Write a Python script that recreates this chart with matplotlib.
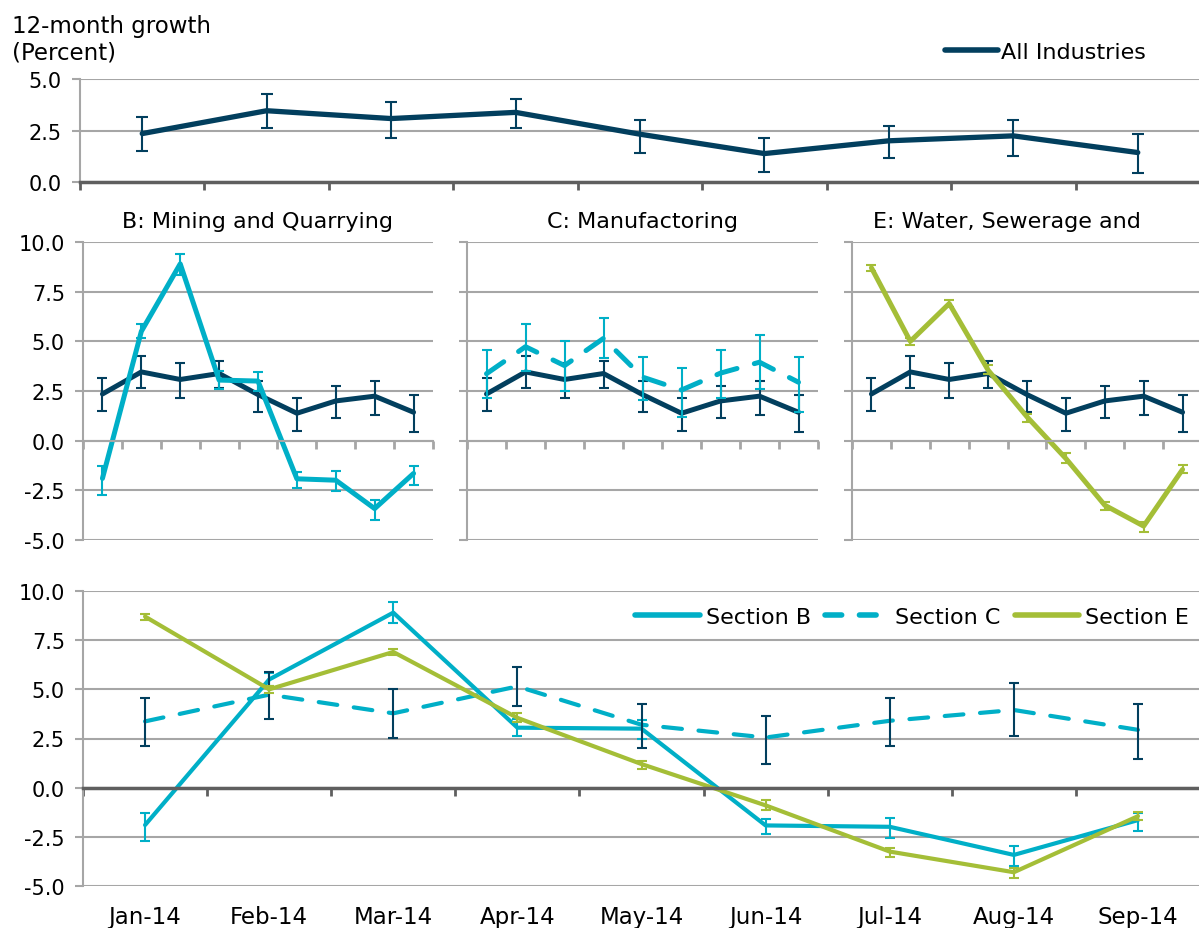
import numpy as np
import matplotlib.pyplot as plt
from matplotlib.lines import Line2D

plt.rcParams['font.family'] = 'DejaVu Sans'

months = ['Jan-14', 'Feb-14', 'Mar-14', 'Apr-14', 'May-14',
          'Jun-14', 'Jul-14', 'Aug-14', 'Sep-14']

# 12-month growth (percent) with lower / upper bounds
all_ind = [2.35, 3.46, 3.08, 3.38, 2.32, 1.38, 2.0, 2.24, 1.43]
all_lo = [1.51, 2.63, 2.16, 2.63, 1.43, 0.5, 1.15, 1.27, 0.42]
all_hi = [3.17, 4.27, 3.9, 4.03, 3.0, 2.16, 2.73, 3.0, 2.32]

sec_b = [-1.9, 5.5, 8.9, 3.05, 3.0, -1.92, -1.99, -3.42, -1.65]
sec_b_lo = [-2.72, 5.15, 8.35, 2.62, 2.5, -2.38, -2.55, -4.0, -2.21]
sec_b_hi = [-1.27, 5.85, 9.42, 3.5, 3.45, -1.6, -1.53, -2.98, -1.28]

sec_c = [3.37, 4.73, 3.78, 5.15, 3.2, 2.55, 3.4, 3.95, 2.94]
sec_c_lo = [2.13, 3.49, 2.52, 4.15, 2.04, 1.19, 2.13, 2.62, 1.45]
sec_c_hi = [4.54, 5.87, 5.02, 6.16, 4.23, 3.66, 4.54, 5.31, 4.23]

sec_e = [8.7, 5.0, 6.9, 3.55, 1.2, -0.9, -3.25, -4.3, -1.45]
sec_e_lo = [8.52, 4.8, 6.75, 3.35, 0.95, -1.12, -3.5, -4.59, -1.65]
sec_e_hi = [8.85, 5.15, 7.07, 3.82, 1.36, -0.62, -3.07, -4.11, -1.24]

NAVY = '#023F5E'
CYAN = '#00AFC7'
GREEN = '#A4BE37'
GRID = '#A6A6A6'
DARK = '#5F5F5F'
TXT = 16

W, H = 1199, 929
fig = plt.figure(figsize=(W / 100, H / 100), dpi=100)
x = np.arange(len(months))


def add_ax(l, r, t, b):
    return fig.add_axes([l / W, 1 - b / H, (r - l) / W, (b - t) / H])


def style(ax, ylim, yticks, labels=True, zero_color=GRID, zero_lw=1.5):
    ax.set_xlim(-0.5, len(months) - 0.5)
    ax.set_ylim(*ylim)
    ax.set_yticks(yticks)
    ax.set_yticklabels([f'{v:.1f}' for v in yticks] if labels else [])
    ax.yaxis.grid(True, color=GRID, lw=1.5)
    ax.set_axisbelow(True)
    for s in ['top', 'right']:
        ax.spines[s].set_visible(False)
    ax.spines['left'].set_color(GRID)
    ax.spines['left'].set_linewidth(1.5)
    ax.spines['bottom'].set_position(('data', 0))
    ax.spines['bottom'].set_color(zero_color)
    ax.spines['bottom'].set_linewidth(zero_lw)
    ax.set_xticks([])
    ax.set_xticks(np.arange(-0.5, len(months), 1), minor=True)
    ax.tick_params(axis='x', which='minor', length=6, width=2,
                   color=zero_color, direction='out')
    ax.tick_params(axis='y', length=6, width=1.5, color=GRID, pad=7,
                   labelsize=15)


def series(ax, y, lo, hi, color, lw, cap, ecolor=None, ls='-'):
    y = np.asarray(y)
    err = [y - np.asarray(lo), np.asarray(hi) - y]
    ax.plot(x, y, color=color, lw=lw, ls=ls, solid_capstyle='round',
            dash_capstyle='round', solid_joinstyle='round')
    ax.errorbar(x, y, yerr=err, fmt='none', ecolor=ecolor or color,
                elinewidth=1.5, capsize=cap, capthick=1.5)


# top panel: all industries
ax0 = add_ax(80, 1200, 80, 183)
style(ax0, (0, 5), [0, 2.5, 5.0], zero_color=DARK, zero_lw=2.5)
series(ax0, all_ind, all_lo, all_hi, NAVY, 3.8, 4.3)
fig.legend([Line2D([], [], color=NAVY, lw=4, solid_capstyle='round')],
           ['All Industries'], loc='center left',
           bbox_to_anchor=(934 / W, 1 - 53 / H), frameon=False,
           fontsize=TXT, handlelength=2.4, handletextpad=0.12, borderpad=0)

fig.text(12 / W, 1 - 15 / H, '12-month growth\n(Percent)', fontsize=16.5,
         va='top', ha='left', linespacing=1.2)

# middle panels
panels = [
    (83, 433, 'B: Mining and Quarrying', 0.5, sec_b, sec_b_lo, sec_b_hi, CYAN, '-'),
    (467, 818, 'C: Manufactoring', 0.5, sec_c, sec_c_lo, sec_c_hi, CYAN, (0, (4.2, 3.6))),
    (852, 1202, 'E: Water, Sewerage and', 0.443, sec_e, sec_e_lo, sec_e_hi, GREEN, '-'),
]
mid_ticks = [-5.0, -2.5, 0.0, 2.5, 5.0, 7.5, 10.0]
for i, (l, r, title, tx, ys, lo, hi, col, ls) in enumerate(panels):
    ax = add_ax(l, r, 243, 541)
    style(ax, (-5, 10), mid_ticks, labels=(i == 0))
    series(ax, all_ind, all_lo, all_hi, NAVY, 3.6, 3.6)
    series(ax, ys, lo, hi, col, 3.6, 3.6, ls=ls)
    ax.text(tx, 1 + 21 / 298, title, transform=ax.transAxes, ha='center',
            va='center', fontsize=TXT)

# bottom panel: all sections together
ax4 = add_ax(83, 1200, 592, 887)
style(ax4, (-5, 10), mid_ticks, zero_color=DARK, zero_lw=2.5)
series(ax4, sec_b, sec_b_lo, sec_b_hi, CYAN, 3.0, 3.6)
series(ax4, sec_c, sec_c_lo, sec_c_hi, CYAN, 3.0, 3.6, ecolor=NAVY,
       ls=(0, (4.5, 4.0)))
series(ax4, sec_e, sec_e_lo, sec_e_hi, GREEN, 3.0, 3.6)
sec = ax4.secondary_xaxis('bottom')
sec.set_xticks(x)
sec.set_xticklabels(months)
sec.tick_params(length=0, pad=14, labelsize=16.5)
sec.spines['bottom'].set_visible(False)

handles = [Line2D([], [], color=CYAN, lw=4, solid_capstyle='round'),
           Line2D([], [], color=CYAN, lw=4, ls=(0, (3.0, 3.2)),
                  dash_capstyle='round'),
           Line2D([], [], color=GREEN, lw=4, solid_capstyle='round')]
fig.legend(handles, ['Section B', 'Section C', 'Section E'],
           loc='center left', bbox_to_anchor=(624 / W, 1 - 618 / H),
           ncol=3, frameon=False, fontsize=TXT, handlelength=2.9,
           handletextpad=0.27, columnspacing=0.63, borderpad=0)

fig.savefig('out.png', dpi=100)
